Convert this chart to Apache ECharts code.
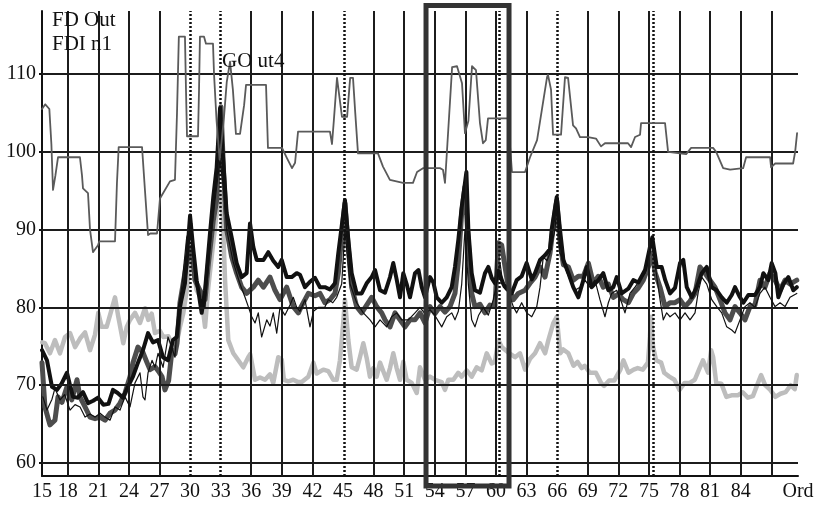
<!DOCTYPE html>
<html>
<head>
<meta charset="utf-8">
<script src="https://cdn.jsdelivr.net/npm/echarts@6/dist/echarts.min.js"></script>
<style>html,body{margin:0;padding:0;background:#fff}#c{width:823px;height:509px}</style>
</head>
<body>
<div id="c"></div>
<script>
// ---- axes ----
const X_MIN = 15.48, X_MAX = 89.62, Y_MIN = 58.33, Y_MAX = 118.1;
const xTickValues = [15, 18, 21, 24, 27, 30, 33, 36, 39, 42, 45, 48, 51, 54, 57, 60, 63, 66, 69, 72, 75, 78, 81, 84];
const xEndLabel = 'Ord';
const yTickValues = [60, 70, 80, 90, 100, 110];
const xGridLines = [18, 21, 24, 27, 36, 39, 42, 48, 51, 54, 57, 60, 63, 69, 72, 75, 78, 81, 84, 87];
const eventLines = [30, 33, 45.1, 60.3, 66, 75.4];
const highlightBox = [[53.14, 118.8, 61.28, 57.04]];
const seriesLabels = ['FD Out', 'FDI n1', 'GO ut4'];

// ---- series ----
const fdOut = [[15.48,105.5],[15.8,106.1],[16.2,105.5],[16.4,101],[16.56,95.1],[16.8,97],[17.05,99.3],[19.2,99.3],[19.4,97],[19.5,95.3],[19.99,94.7],[20.19,90],[20.48,87.1],[20.97,88],[21.1,88.5],[22.64,88.5],[22.83,96],[23.0,100.6],[25.29,100.6],[25.58,95],[25.88,89.3],[26.1,89.5],[26.76,89.5],[27.05,94],[28.03,96.2],[28.52,96.4],[28.72,105],[28.9,114.8],[29.5,114.8],[29.6,108],[29.7,102],[30.78,102],[30.88,108],[30.97,114.8],[31.37,114.8],[31.56,113.9],[32.25,113.9],[32.35,110],[32.6,104],[32.9,99],[33.3,104],[33.6,109],[33.92,111.6],[34.2,108],[34.5,102.3],[34.9,102.3],[35.3,106],[35.49,108.6],[37.45,108.6],[37.64,100.5],[39.02,100.5],[39.5,99.2],[40.0,97.9],[40.3,98.6],[40.59,102.6],[43.72,102.6],[43.92,101],[44.1,104],[44.41,109.5],[44.6,109.5],[44.9,104.5],[45.4,104.5],[45.7,109.5],[45.98,109.5],[46.2,105],[46.47,99.8],[48.43,99.8],[48.92,98.1],[49.6,96.4],[50.88,96],[51.86,96],[52.26,97.4],[52.84,97.9],[54.5,97.9],[54.8,97.7],[55.0,96],[55.2,100.2],[55.7,110.9],[56.18,111],[56.67,108.8],[56.96,102.4],[57.3,104],[57.65,111],[58.04,110.5],[58.43,103.7],[58.73,101.1],[59.0,101.5],[59.22,104.3],[61.18,104.3],[61.57,97.4],[62.85,97.4],[63.34,99.3],[64.03,101.5],[65.01,109.6],[65.1,109.9],[65.4,108],[65.6,102.2],[66.38,102.2],[66.77,109.6],[67.07,109.5],[67.56,103.4],[67.85,103],[68.24,101.9],[69.03,101.9],[69.81,101.7],[70.3,100.7],[70.69,101.1],[72.95,101.1],[73.25,100.6],[73.64,101.9],[74.13,102.2],[74.23,103.7],[76.58,103.7],[76.88,100],[78.65,99.7],[79.14,100.5],[81.29,100.5],[81.59,100],[82.28,97.9],[82.96,97.7],[84.24,97.9],[84.53,99.3],[86.88,99.3],[86.98,98],[87.38,98.5],[89.14,98.5],[89.34,100],[89.53,102.4]];

const blackThick = [[15.48,74.5],[15.97,73.2],[16.46,69.8],[16.95,69.4],[17.4,70.2],[17.93,71.6],[18.23,70],[18.52,68.5],[19.0,68.4],[19.5,69.1],[20.0,67.7],[20.5,68],[20.97,68.4],[21.5,67.5],[22.0,67.6],[22.44,69.4],[22.9,69],[23.42,68.4],[23.9,69.8],[24.4,71.1],[24.89,72.9],[25.38,74.5],[25.88,76.7],[26.36,75.5],[26.86,75.8],[27.35,73.6],[27.84,73.2],[28.33,75.8],[28.69,76.2],[29.01,80.1],[29.5,83.1],[30.0,91.8],[30.29,87.8],[30.65,83.5],[31.14,79.3],[31.47,82.2],[31.96,89.6],[32.28,94.2],[32.61,98],[32.94,105.6],[33.2,100],[33.59,92.1],[34.08,89],[34.57,85.7],[35.06,83.9],[35.55,84.4],[35.88,90.8],[36.2,87.8],[36.54,86.1],[37.2,86.1],[37.67,87.1],[38.16,86],[38.65,85.2],[38.99,86.1],[39.48,83.9],[39.97,83.9],[40.46,84.4],[40.78,84.2],[41.27,82.6],[41.76,83.3],[42.25,83.8],[42.74,82.6],[43.23,82.6],[43.72,82.3],[44.21,83.1],[44.54,87],[45.03,92.1],[45.19,93.8],[45.52,88.7],[45.85,84.4],[46.34,81.8],[46.83,81.8],[47.32,83.1],[47.81,83.9],[48.14,84.8],[48.63,82.2],[49.12,81.9],[49.61,83.9],[49.93,85.7],[50.26,83.6],[50.59,81.3],[50.91,84.4],[51.24,83],[51.57,81.3],[52.06,84.4],[52.4,84.8],[52.72,82.6],[53.04,81.3],[53.53,83.9],[53.86,83.2],[54.19,81.3],[54.68,80.6],[55.17,81.3],[55.66,82.6],[55.98,85.2],[56.31,88.7],[56.64,92.9],[56.96,96],[57.1,97.4],[57.29,90],[57.62,84.4],[57.94,82.2],[58.43,81.9],[58.92,84.4],[59.25,85.2],[59.58,83.8],[59.9,83.1],[60.23,84.7],[60.72,83],[61.05,82.4],[61.54,81.8],[62.03,83.5],[62.52,84],[63.01,85.7],[63.51,83.6],[63.83,84.4],[64.32,86.1],[64.81,86.7],[65.3,87.5],[65.46,90],[65.96,94.2],[66.28,90],[66.61,86.1],[67.1,84.4],[67.58,82.6],[68.08,81.3],[68.57,83.5],[68.9,85.2],[69.39,82.6],[70.04,83.5],[70.52,84.4],[71.02,82.2],[71.51,82.6],[71.84,83.9],[72.33,81.8],[72.98,82.4],[73.47,83.5],[73.96,83.2],[74.62,84.8],[75.11,87.8],[75.33,89],[75.77,85.2],[76.25,85.2],[76.6,83.5],[77.07,81.8],[77.56,82.5],[78.05,85.7],[78.37,86.1],[78.71,82.6],[79.2,81.3],[79.69,82.6],[80.18,84.4],[80.67,85.2],[81.16,82.6],[81.65,82.2],[82.14,81.3],[82.63,80.6],[83.12,81.6],[83.44,82.6],[83.93,81.3],[84.26,80.6],[84.75,81.6],[85.4,81.6],[85.89,82.6],[86.22,84.4],[86.71,83.5],[87.04,85.7],[87.4,84.4],[87.69,81.3],[88.18,83],[88.67,83.9],[89.16,82.2],[89.5,82.6]];

const darkThick = [[15.48,72.9],[15.77,67.2],[16.26,64.9],[16.75,65.5],[17.05,68.5],[17.44,67.8],[17.93,69.8],[18.4,68.1],[18.91,70.7],[19.2,68.5],[19.7,67.2],[20.19,65.9],[20.68,65.7],[21.17,65.9],[21.66,65.5],[22.15,66.4],[22.64,66.8],[23.13,67.7],[23.62,69],[24.11,71.1],[24.4,72.9],[24.89,74.9],[25.38,74.2],[25.78,72.9],[26.07,72],[26.56,72.4],[26.9,71.8],[27.25,71.1],[27.54,69.4],[27.9,70.6],[28.23,74.5],[28.52,74],[28.72,75.4],[29.01,80.6],[29.67,85.8],[30.16,87.8],[30.48,83.5],[30.97,82.2],[31.47,81],[31.79,85.5],[32.28,91.2],[32.61,93.8],[33.03,105.8],[33.3,97],[33.59,90],[34.08,86.5],[34.57,84.4],[35.06,82.6],[35.55,81.8],[36.2,82.6],[36.69,83.5],[37.2,82.6],[37.84,83.9],[38.33,82.2],[38.82,81],[39.48,82.6],[40.12,80.1],[40.62,79.3],[40.9,80.1],[41.6,81.8],[42.25,81.5],[42.74,81.8],[43.23,80.6],[43.72,81],[44.21,81.8],[44.54,84.4],[45.03,91.4],[45.19,93.4],[45.52,87.6],[45.85,82.6],[46.34,80.1],[46.83,79.3],[47.32,80.3],[47.81,81.3],[48.3,80.1],[48.79,79.3],[49.12,78.4],[49.61,77.5],[50.1,79.3],[50.59,78.4],[51.08,77.5],[51.57,78.4],[52.06,78.4],[52.55,79.3],[53.04,78],[53.53,80.1],[54.02,79.2],[54.51,80.1],[55.0,79.4],[55.49,80.1],[55.98,81.8],[56.31,85.8],[56.64,92.2],[56.96,95.5],[57.29,88.4],[57.62,81.8],[57.94,80.1],[58.43,80.4],[58.92,79.3],[59.41,80.3],[59.9,80.1],[60.23,88.3],[60.56,88],[60.89,85.2],[61.21,82.6],[61.7,81],[62.19,81.8],[62.85,82.2],[63.34,83.1],[63.83,83.9],[64.32,85.2],[64.81,83.9],[65.3,87],[65.79,92.2],[65.96,93.7],[66.28,88.4],[66.61,85.5],[67.1,85.2],[67.58,83.5],[68.08,84],[68.57,84],[69.06,85.7],[69.55,83.1],[70.04,84],[70.52,82.6],[71.02,83],[71.51,81.3],[72.0,81.7],[72.49,81],[72.98,80.6],[73.47,81.8],[73.96,82.5],[74.45,83.5],[74.94,85.2],[75.33,87],[75.6,84.5],[76.09,82.6],[76.58,80.1],[77.07,80.6],[77.56,80.6],[78.05,81],[78.54,80.1],[79.03,80.8],[79.52,81.8],[80.01,85.2],[80.5,84.4],[80.99,83.5],[81.48,82.6],[81.97,81],[82.46,79.3],[82.95,78.4],[83.44,80.1],[83.93,79.3],[84.42,78.4],[84.91,80.1],[85.4,80.3],[85.89,83.5],[86.38,82.6],[86.87,84.4],[87.37,83.5],[87.86,82.2],[88.35,83.5],[88.84,83],[89.5,83.5]];

const blackThin = [[15.57,68.5],[15.97,66.8],[16.46,68.2],[16.75,69.6],[17.24,68.1],[17.7,68.8],[18.23,66.8],[18.72,67.5],[19.21,67.2],[19.7,65.9],[20.19,66.3],[20.68,65.9],[21.17,66.4],[21.66,65.9],[22.15,65.5],[22.64,67.2],[23.13,66.8],[23.62,68.5],[24.11,67.2],[24.6,70.3],[25.09,71.6],[25.38,68.5],[25.58,68.1],[25.88,71.6],[26.27,73.2],[26.56,72.3],[26.86,74.1],[27.35,72.3],[27.84,76.2],[28.17,75],[28.52,73.6],[28.85,80],[29.18,82.6],[29.67,89],[30.16,90.8],[30.48,83.5],[30.97,81.3],[31.47,80],[31.96,87.8],[32.45,93.8],[32.94,99],[33.3,95],[33.59,90],[34.24,85.8],[34.9,83],[35.39,81.3],[35.71,80.1],[36.05,78.8],[36.37,78],[36.69,79.3],[37.02,76.2],[37.52,78.4],[37.84,77.6],[38.16,79.3],[38.5,76.7],[38.82,80],[39.3,79],[39.8,80.3],[40.12,81.3],[40.46,80],[40.78,79.5],[41.27,81],[41.76,77.5],[42.1,79.5],[42.58,80],[43.2,80],[43.56,81],[44.0,80.6],[44.38,81.3],[44.87,83],[45.19,90],[45.69,83],[46.34,80.6],[46.99,79.3],[47.65,78.4],[48.14,77.5],[48.63,78.4],[49.28,77.5],[49.77,78.8],[50.26,79.3],[50.75,78.4],[51.41,78.4],[52.06,79.3],[52.55,80],[53.04,79.2],[53.53,79.7],[54.0,79],[54.68,77.5],[55.17,78.8],[55.66,79.3],[55.98,78.4],[56.31,79.5],[56.64,83],[56.96,90],[57.29,83],[57.62,78.4],[57.94,77.5],[58.3,79],[58.76,80],[59.25,79],[59.74,81],[60.07,83],[60.4,85.7],[60.72,82.6],[61.21,82],[61.7,80.1],[62.03,79.3],[62.52,80.6],[63.01,79.3],[63.51,78.8],[64.0,80.1],[64.32,82.6],[64.64,86.5],[65.0,86],[65.3,87],[65.79,90],[65.96,93],[66.28,87],[66.77,85.2],[67.26,83.5],[67.75,82.2],[68.24,82.6],[68.73,83.5],[69.22,82.6],[69.71,83.5],[70.2,81],[70.69,78.8],[71.02,80.6],[71.35,81.8],[71.84,82.2],[72.33,80.6],[72.65,79.3],[73.14,81.8],[73.63,82.6],[74.13,83.5],[74.62,84.4],[75.11,87.6],[75.33,88.4],[75.77,83.9],[76.09,81],[76.41,78.4],[76.74,79.3],[77.07,78.8],[77.56,79.3],[78.05,78.4],[78.54,79.3],[79.03,78.4],[79.52,79.3],[79.84,82],[80.18,83.9],[80.67,83],[81.16,81],[81.65,80.1],[82.14,79.3],[82.63,77.5],[83.12,77.1],[83.44,76.7],[83.93,78.4],[84.42,80.1],[84.91,80.6],[85.4,80],[85.89,81.8],[86.38,82.6],[86.87,81.3],[87.37,80.1],[87.86,80.6],[88.35,80.1],[88.84,81.3],[89.5,81.8]];

const lightThick = [[15.5,75.5],[15.77,75.4],[16.26,74.1],[16.75,75.8],[17.24,74.1],[17.74,76.2],[18.23,76.7],[18.72,74.9],[19.21,76],[19.7,76.8],[20.19,74.5],[20.68,76.5],[21.0,79.3],[21.33,77.5],[21.82,77.5],[22.15,79],[22.64,81.3],[22.96,78.8],[23.45,75.4],[23.79,77.5],[24.11,78.4],[24.6,79.3],[25.09,78],[25.58,79.9],[25.9,78.4],[26.24,79.2],[26.56,76.7],[27.05,77],[27.38,76.2],[27.87,76.3],[28.36,74.9],[28.69,75.4],[29.01,77.5],[29.34,79.3],[29.67,82.2],[30.0,86.1],[30.16,86.5],[30.65,82.2],[31.14,81],[31.47,77.5],[31.79,82.6],[32.12,86.5],[32.61,92.1],[32.94,94.9],[33.2,92],[33.43,83.5],[33.75,75.8],[34.24,74.1],[34.73,73.2],[35.22,72.3],[35.71,73.6],[35.9,74],[36.37,70.7],[36.86,71],[37.35,70.7],[37.84,71.4],[38.16,70.3],[38.65,73.6],[38.99,73.3],[39.2,70.7],[39.63,70.5],[40.12,70.7],[40.6,70.4],[40.95,70.4],[41.6,71.1],[42.09,72.9],[42.42,71.5],[43.07,72],[43.56,71.8],[44.05,70.7],[44.38,70.7],[44.7,73.2],[45.02,78],[45.19,81],[45.52,75.8],[45.85,72.3],[46.34,72],[46.66,73.6],[46.99,75.4],[47.32,73.5],[47.64,71.1],[47.97,72.2],[48.3,71.1],[48.63,72.9],[48.95,71.8],[49.28,70.7],[49.61,72.2],[49.93,74.1],[50.26,72.2],[50.59,70.7],[50.91,73],[51.24,70.7],[51.74,70.3],[52.23,69],[52.55,72.3],[53.04,70.7],[53.53,71.1],[54.02,70.7],[54.68,70.4],[55.0,69.4],[55.33,70.7],[55.82,70.7],[56.3,71.6],[56.64,71.1],[57.13,71.9],[57.62,71.1],[58.11,72.3],[58.6,71.9],[59.09,74.1],[59.58,72.8],[59.9,73],[60.23,75.8],[60.56,74.9],[61.21,74.2],[61.87,73.6],[62.36,74.1],[62.85,72],[63.34,73.4],[63.83,74.1],[64.32,75.4],[64.82,74.1],[65.14,75.8],[65.63,78],[65.96,78.8],[66.3,74.1],[66.6,74.6],[67.1,74.1],[67.6,72.5],[68.0,73],[68.4,72.2],[68.7,72.5],[69.2,71.6],[69.8,71.6],[70.3,70.3],[70.6,69.9],[71.1,70.6],[71.6,70.6],[72.2,72],[72.5,73.2],[73.0,71.6],[73.5,72],[73.9,72.2],[74.4,72],[74.9,72.9],[75.1,76.2],[75.2,78.8],[75.4,75],[75.7,73.2],[76.2,72.9],[76.5,71.6],[77.0,71.1],[77.5,70.7],[78.0,69.4],[78.5,70.3],[79.0,70.3],[79.5,70.7],[80.0,72.3],[80.3,73.2],[80.8,71.6],[81.1,74.5],[81.3,73.6],[81.6,70.3],[82.1,70.2],[82.6,68.5],[83.1,68.7],[83.7,68.7],[84.2,69.1],[84.7,68.4],[85.2,68.6],[85.7,70.3],[86.0,71.3],[86.4,70],[86.9,69.4],[87.4,68.5],[87.9,68.9],[88.4,69.1],[88.9,70],[89.3,69.5],[89.5,71.3]];

// ---- chart ----
const FONT = '"Liberation Serif", "DejaVu Serif", serif';
const chart = echarts.init(document.getElementById('c'), null, {renderer: 'canvas'});

const xLabelValues = xTickValues.map(v => Math.max(v, X_MIN)).concat([X_MAX]);
function xLabel(v) {
  if (Math.abs(v - X_MAX) < 1e-6) return xEndLabel;
  for (const t of xTickValues) if (Math.abs(Math.max(t, X_MIN) - v) < 1e-6) return String(t);
  return '';
}

function lineSeries(name, data, color, width, z) {
  return {
    name, type: 'line', data, showSymbol: false, symbol: 'none', z,
    lineStyle: {color, width, join: 'round', cap: 'round'}, silent: true
  };
}

chart.setOption({
  animation: false,
  backgroundColor: '#fff',
  grid: {left: 42, right: 25, top: 11, bottom: 33, containLabel: false, outerBoundsMode: 'none'},
  xAxis: {
    type: 'value', min: X_MIN, max: X_MAX,
    axisLine: {show: true, lineStyle: {color: '#111', width: 2}},
    axisTick: {show: false},
    splitLine: {show: false},
    axisLabel: {customValues: xLabelValues, formatter: xLabel, color: '#111',
      fontFamily: FONT, fontSize: 20, margin: 6, showMinLabel: true, showMaxLabel: true}
  },
  yAxis: {
    type: 'value', min: Y_MIN, max: Y_MAX,
    axisLine: {show: true, lineStyle: {color: '#111', width: 2}},
    axisTick: {show: true, customValues: yTickValues, length: 3, lineStyle: {color: '#111', width: 2}},
    splitLine: {show: false},
    axisLabel: {customValues: yTickValues, color: '#111', fontFamily: FONT, fontSize: 20, margin: 6}
  },
  graphic: [
    {type: 'text', left: 52, top: 10, z: 20, style: {text: seriesLabels[0], font: '21px ' + FONT, fill: '#111'}},
    {type: 'text', left: 52, top: 34, z: 20, style: {text: seriesLabels[1], font: '21px ' + FONT, fill: '#111'}},
    {type: 'text', left: 222, top: 51, z: 20, style: {text: seriesLabels[2], font: '21px ' + FONT, fill: '#111'}}
  ],
  series: [
    {
      name: 'grid', type: 'line', data: [], z: 1, silent: true,
      markLine: {
        silent: true, symbol: 'none', animation: false, label: {show: false},
        lineStyle: {color: '#1c1c1c', width: 2, type: 'solid'},
        data: xGridLines.map(v => ({xAxis: v})).concat(yTickValues.map(v => ({yAxis: v})))
      }
    },
    lineSeries('lightThick', lightThick, '#bdbdbd', 4.5, 2),
    lineSeries('darkThick', darkThick, '#4d4d4d', 5, 3),
    lineSeries('blackThick', blackThick, '#111111', 4, 4),
    lineSeries('blackThin', blackThin, '#111111', 1.2, 5),
    lineSeries('fdOut', fdOut, '#5a5a5a', 1.8, 5),
    {
      name: 'events', type: 'line', data: [], z: 6, silent: true,
      markLine: {
        silent: true, symbol: 'none', animation: false, label: {show: false},
        lineStyle: {color: '#111', width: 2.5, type: [2, 2]},
        data: eventLines.map(v => ({xAxis: v}))
      }
    },
    {
      name: 'box', type: 'custom', z: 7, clip: false, silent: true,
      data: highlightBox,
      encode: {x: [0, 2], y: [1, 3]},
      renderItem: function (params, api) {
        const p1 = api.coord([api.value(0), api.value(1)]);
        const p2 = api.coord([api.value(2), api.value(3)]);
        return {
          type: 'rect',
          shape: {x: p1[0], y: p1[1], width: p2[0] - p1[0], height: p2[1] - p1[1]},
          style: {fill: 'none', stroke: '#333', lineWidth: 5}
        };
      }
    }
  ]
});
</script>
</body>
</html>
